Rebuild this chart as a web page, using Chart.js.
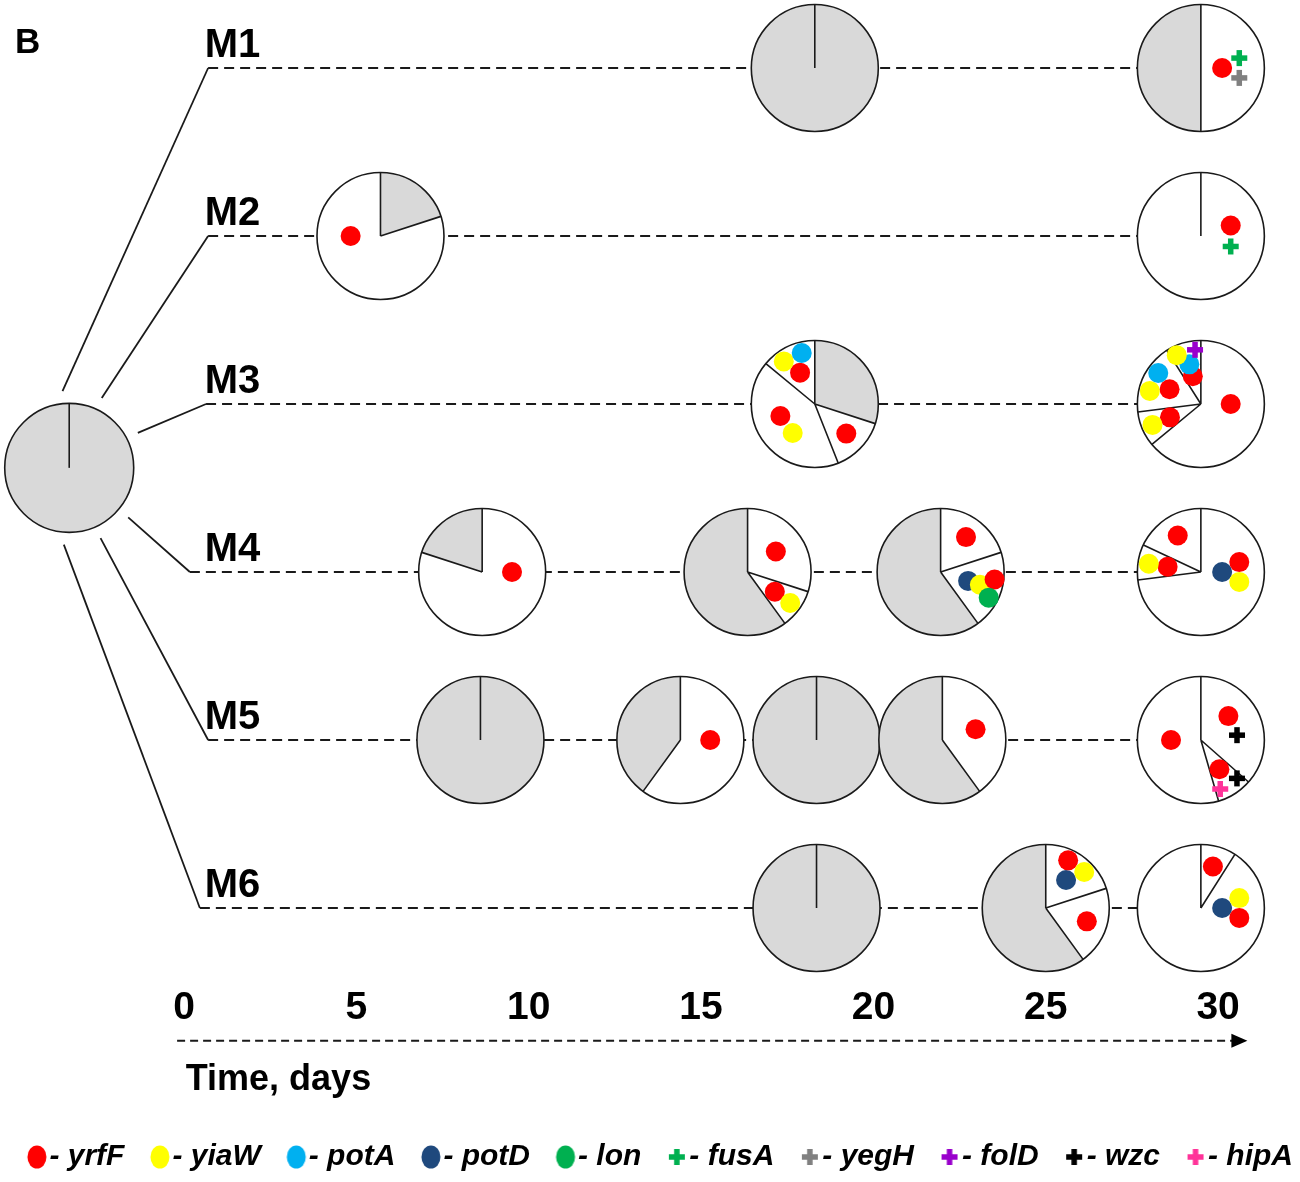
<!DOCTYPE html>
<html>
<head>
<meta charset="utf-8">
<title>Clone dynamics in lines M1-M6</title>
<script src="https://cdn.jsdelivr.net/npm/chart.js@4.4.1/dist/chart.umd.min.js"></script>
<style>
  html, body { margin: 0; padding: 0; background: #fff; }
  canvas { display: block; }
</style>
</head>
<body>
<canvas id="chart" width="1300" height="1182"></canvas>
<script>
// Lines, axis ticks and genes
const lineNames = ['M1', 'M2', 'M3', 'M4', 'M5', 'M6'];
const tickDays = [0, 5, 10, 15, 20, 25, 30];
const genes = ['yrfF', 'yiaW', 'potA', 'potD', 'lon', 'fusA', 'yegH', 'folD', 'wzc', 'hipA'];

// One entry per sequenced population: line index and day of sampling
const sampleLine = [0, 0, 1, 1, 2, 2, 3, 3, 3, 3, 4, 4, 4, 4, 4, 5, 5, 5];
const sampleDay = [18.3, 29.5, 5.7, 29.5, 18.3, 29.5, 8.65, 16.35, 21.95, 29.5, 8.6, 14.4, 18.35, 22, 29.5, 18.35, 25, 29.5];

// Subpopulation shares, clockwise from 12 o'clock
const sampleShares = [
  [1],
  [0.5, 0.5],
  [0.2, 0.8],
  [1],
  [0.3, 0.14, 0.42, 0.14],
  [0.64, 0.09, 0.18, 0.09],
  [0.8, 0.2],
  [0.3, 0.1, 0.6],
  [0.2, 0.2, 0.6],
  [0.73, 0.09, 0.18],
  [1],
  [0.6, 0.4],
  [1],
  [0.4, 0.6],
  [0.365, 0.09, 0.545],
  [1],
  [0.2, 0.2, 0.6],
  [0.09, 0.91]
];

// Mutated genes of each subpopulation (empty = ancestral genotype)
const sampleGenes = [
  [[]],
  [['yrfF', 'fusA', 'yegH'], []],
  [[], ['yrfF']],
  [['yrfF', 'fusA']],
  [[], ['yrfF'], ['yiaW', 'yrfF'], ['yrfF', 'yiaW', 'potA']],
  [['yrfF'], ['yrfF', 'yiaW'], ['yrfF', 'yiaW', 'potA'], ['yrfF', 'potA', 'yiaW', 'folD']],
  [['yrfF'], []],
  [['yrfF'], ['yrfF', 'yiaW'], []],
  [['yrfF'], ['potD', 'yiaW', 'yrfF', 'lon'], []],
  [['potD', 'yrfF', 'yiaW'], ['yrfF', 'yiaW'], ['yrfF']],
  [[]],
  [['yrfF'], []],
  [[]],
  [['yrfF'], []],
  [['yrfF', 'wzc'], ['yrfF', 'wzc', 'hipA'], ['yrfF']],
  [[]],
  [['potD', 'yrfF', 'yiaW'], ['yrfF'], []],
  [['yrfF'], ['potD', 'yiaW', 'yrfF']]
];

// Styles
const FONT = '"Liberation Sans", Arial, sans-serif';
const geneColors = ['#ff0000', '#ffff00', '#00b0f0', '#1f497d', '#00b050', '#00b050', '#808080', '#9900cc', '#000000', '#ff3399'];
const geneShapes = ['dot', 'dot', 'dot', 'dot', 'dot', 'plus', 'plus', 'plus', 'plus', 'plus'];
const GREY = '#d9d9d9';
const INK = '#1a1a1a';

// Layout
const DAY_PX = 34.47, DAY0_PX = 184;   // horizontal scale
const ROW_PX = 168, ROW1_PX = 68;      // vertical scale
const PIE_R = 63.5, ROOT_R = 64.5;
const ROOT_DAY = -3.33, ROOT_ROW = 3.38;
const BRANCH_ANGLES = [-95, -65, -27, 40, 66, 94];
const BRANCH_GAP = 77;
const lineStartDay = [0.7, 0.7, 0.64, 0.17, 0.7, 0.46];
const LABEL_DAY = 0.6;
const AXIS_ROW = 6.46, ARROW_ROW = 6.79;

const rad = (deg) => (deg - 90) * Math.PI / 180;

function drawPlus(ctx, px, py, span, thick) {
  ctx.fillRect(px - span / 2, py - thick / 2, span, thick);
  ctx.fillRect(px - thick / 2, py - span / 2, thick, span);
}

function drawMarker(ctx, gene, px, py) {
  const i = genes.indexOf(gene);
  ctx.fillStyle = geneColors[i];
  if (geneShapes[i] === 'dot') {
    ctx.beginPath();
    ctx.arc(px, py, 10, 0, 2 * Math.PI);
    ctx.fill();
  } else {
    drawPlus(ctx, px, py, 16, 5.5);
  }
}

// small offsets (radial, tangential) for a group of markers
function clusterOffsets(n, w) {
  if (n === 1) return [[0, 0]];
  if (n === 2) return w < 90 ? [[-0.5, 0], [0.5, 0]] : [[0, -0.55], [0, 0.55]];
  if (n === 3) return [[-0.45, 0], [0.45, -0.52], [0.45, 0.52]];
  return [[-0.75, 0], [-0.1, 0], [0.55, -0.5], [0.55, 0.5]];
}

function placeMarkers(ctx, cx, cy, r, a0, a1, list) {
  const w = a1 - a0;
  let anchor, dist;
  if (w >= 180) {
    anchor = a0 <= 45 ? 90 : a1 - 90;
    dist = 0.47;
  } else {
    anchor = (a0 + a1) / 2;
    dist = w >= 90 ? 0.55 : 0.68;
  }
  const t = anchor * Math.PI / 180;
  const ux = Math.sin(t), uy = -Math.cos(t);
  const vx = Math.cos(t), vy = Math.sin(t);
  const s = 0.3 * r;
  const offs = clusterOffsets(list.length, w);
  list.forEach((g, k) => {
    const [u, v] = offs[k];
    const rr = dist * r + u * s;
    drawMarker(ctx, g, cx + ux * rr + vx * v * s, cy + uy * rr + vy * v * s);
  });
}

function drawPie(ctx, cx, cy, r, shares, clones) {
  const starts = [];
  let a = 0;
  shares.forEach((share, k) => {
    const a0 = a, a1 = a + share * 360;
    ctx.beginPath();
    ctx.moveTo(cx, cy);
    ctx.arc(cx, cy, r, rad(a0), rad(a1));
    ctx.closePath();
    ctx.fillStyle = clones[k].length ? '#ffffff' : GREY;
    ctx.fill();
    starts.push(a0);
    a = a1;
  });
  ctx.strokeStyle = INK;
  ctx.lineWidth = 1.6;
  ctx.beginPath();
  ctx.arc(cx, cy, r, 0, 2 * Math.PI);
  ctx.stroke();
  ctx.beginPath();
  starts.forEach((deg) => {
    ctx.moveTo(cx, cy);
    ctx.lineTo(cx + r * Math.cos(rad(deg)), cy + r * Math.sin(rad(deg)));
  });
  ctx.stroke();
  a = 0;
  shares.forEach((share, k) => {
    const a0 = a, a1 = a + share * 360;
    if (clones[k].length) placeMarkers(ctx, cx, cy, r, a0, a1, clones[k]);
    a = a1;
  });
}

// legend icon, nudged right so it sits close to its text
function markerIcon(i) {
  const c = document.createElement('canvas');
  c.width = 28;
  c.height = 26;
  const g = c.getContext('2d');
  g.fillStyle = geneColors[i];
  if (geneShapes[i] === 'dot') {
    g.beginPath();
    g.ellipse(17, 13, 9.5, 11.5, 0, 0, 2 * Math.PI);
    g.fill();
  } else {
    drawPlus(g, 17, 13, 16, 5.5);
  }
  return c;
}

const cloneTree = {
  id: 'cloneTree',
  afterDatasetsDraw(chart) {
    const { ctx, scales: { x, y } } = chart;
    const pies = chart.getDatasetMeta(0).data;
    const root = chart.getDatasetMeta(1).data[0];
    ctx.save();

    // branches from the ancestor and the timeline of every line
    lineNames.forEach((name, r) => {
      const yr = y.getPixelForValue(r + 1);
      const xs = x.getPixelForValue(lineStartDay[r]);
      const a = BRANCH_ANGLES[r] * Math.PI / 180;
      ctx.strokeStyle = INK;
      ctx.lineWidth = 1.8;
      ctx.setLineDash([]);
      ctx.beginPath();
      ctx.moveTo(root.x + Math.cos(a) * BRANCH_GAP, root.y + Math.sin(a) * BRANCH_GAP);
      ctx.lineTo(xs, yr);
      ctx.stroke();

      const lastDay = Math.max(...sampleDay.filter((d, i) => sampleLine[i] === r));
      ctx.lineWidth = 2;
      ctx.setLineDash([10, 6]);
      ctx.beginPath();
      ctx.moveTo(xs, yr);
      ctx.lineTo(x.getPixelForValue(lastDay), yr);
      ctx.stroke();
    });
    ctx.setLineDash([]);

    drawPie(ctx, root.x, root.y, ROOT_R, [1], [[]]);
    pies.forEach((pt, i) => drawPie(ctx, pt.x, pt.y, PIE_R, sampleShares[i], sampleGenes[i]));

    // line names
    ctx.fillStyle = '#000';
    ctx.textAlign = 'left';
    ctx.textBaseline = 'alphabetic';
    ctx.font = `bold 40px ${FONT}`;
    lineNames.forEach((name, r) => {
      ctx.fillText(name, x.getPixelForValue(LABEL_DAY), y.getPixelForValue(r + 1) - 11);
    });

    // panel letter
    ctx.font = `bold 35px ${FONT}`;
    ctx.fillText('B', chart.chartArea.left + 15, 53);

    // time arrow
    const ya = y.getPixelForValue(ARROW_ROW);
    const x0 = x.getPixelForValue(-0.2);
    const x1 = x.getPixelForValue(30.85);
    ctx.strokeStyle = INK;
    ctx.lineWidth = 2;
    ctx.setLineDash([8, 5]);
    ctx.beginPath();
    ctx.moveTo(x0, ya);
    ctx.lineTo(x1 - 14, ya);
    ctx.stroke();
    ctx.setLineDash([]);
    ctx.fillStyle = '#000';
    ctx.beginPath();
    ctx.moveTo(x1, ya);
    ctx.lineTo(x1 - 16, ya - 7);
    ctx.lineTo(x1 - 16, ya + 7);
    ctx.closePath();
    ctx.fill();

    ctx.font = `bold 36px ${FONT}`;
    ctx.fillText('Time, days', x.getPixelForValue(0.05), ya + 49);
    ctx.restore();
  }
};

const geneDatasets = genes.map((g, i) => ({
  label: '- ' + g + (i < genes.length - 1 ? '   ' : ''),
  data: [],
  pointStyle: markerIcon(i)
}));

new Chart(document.getElementById('chart'), {
  type: 'scatter',
  data: {
    datasets: [
      {
        label: 'samples',
        data: sampleDay.map((d, i) => ({ x: d, y: sampleLine[i] + 1 })),
        pointRadius: 0,
        pointHitRadius: 0
      },
      {
        label: 'ancestor',
        data: [{ x: ROOT_DAY, y: ROOT_ROW }],
        pointRadius: 0,
        pointHitRadius: 0
      },
      ...geneDatasets
    ]
  },
  options: {
    responsive: false,
    devicePixelRatio: 1,
    animation: false,
    events: [],
    layout: { padding: 0 },
    scales: {
      x: {
        type: 'linear',
        bounds: 'data',
        position: { y: AXIS_ROW },
        afterDataLimits: (s) => {
          s.min = -DAY0_PX / DAY_PX;
          s.max = s.min + s.width / DAY_PX;
        },
        afterBuildTicks: (s) => {
          s.ticks = tickDays.map((v) => ({ value: v }));
        },
        grid: { display: false, drawTicks: false },
        border: { display: false },
        ticks: {
          padding: 0,
          maxRotation: 0,
          autoSkip: false,
          color: '#000',
          font: { family: FONT, size: 39, weight: 'bold' }
        }
      },
      y: {
        type: 'linear',
        display: false,
        reverse: true,
        bounds: 'data',
        afterDataLimits: (s) => {
          s.min = 1 - ROW1_PX / ROW_PX;
          s.max = s.min + s.height / ROW_PX;
        }
      }
    },
    plugins: {
      tooltip: { enabled: false },
      legend: {
        position: 'bottom',
        align: 'end',
        labels: {
          usePointStyle: true,
          pointStyleWidth: 1,
          padding: 7,
          color: '#000',
          font: { family: FONT, size: 30, weight: 'bold', style: 'italic' },
          filter: (item) => item.datasetIndex >= 2
        }
      }
    }
  },
  plugins: [cloneTree]
});
</script>
</body>
</html>
